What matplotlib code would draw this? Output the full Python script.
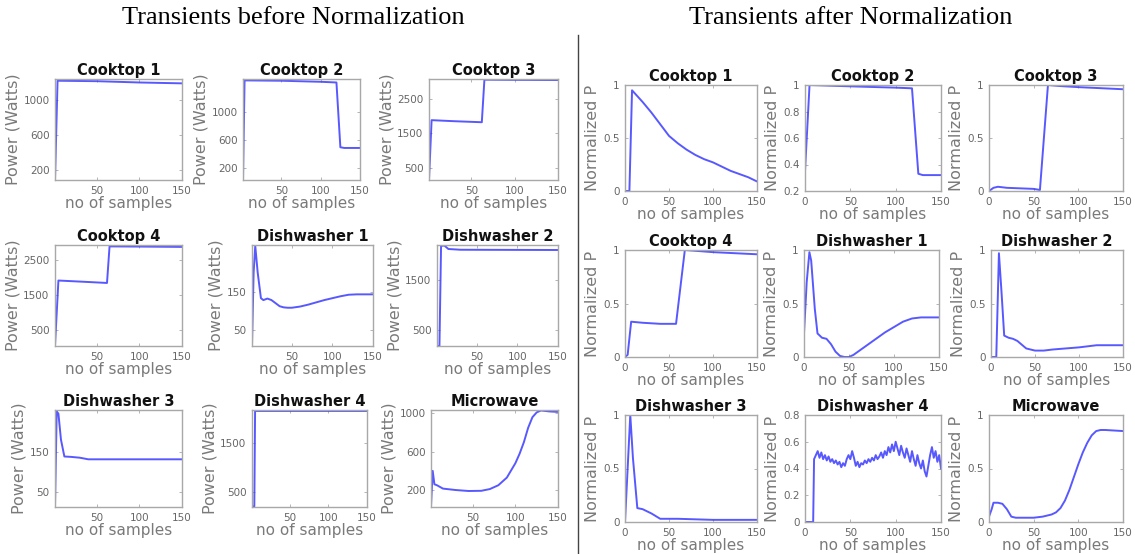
import matplotlib
matplotlib.use("Agg")
import matplotlib.pyplot as plt
from matplotlib.lines import Line2D

W, H = 1135, 554

# ---------------- data: before normalization (x samples, power W) ----------------
ck1_x = [1, 4, 50, 100, 150]
ck1_y = [80, 1220, 1215, 1200, 1190]

ck2_x = [1, 3, 50, 100, 120, 125, 130, 150]
ck2_y = [30, 1460, 1455, 1440, 1430, 500, 490, 490]

ck3_x = [1, 4, 30, 62, 65, 100, 150]
ck3_y = [150, 1880, 1850, 1820, 3050, 3045, 3040]

ck4_x = [1, 5, 30, 62, 65, 100, 150]
ck4_y = [50, 1920, 1890, 1850, 2900, 2895, 2885]

dw1_x = [1, 3, 5, 8, 12, 15, 20, 25, 30, 35, 40, 45, 50, 60, 70, 80, 90, 100, 110, 120, 130, 150]
dw1_y = [10, 200, 270, 200, 133, 128, 132, 128, 120, 112, 109, 108, 108, 111, 116, 122, 128, 133, 138, 142, 143, 143]

dw2_x = [1, 4, 6, 10, 15, 30, 150]
dw2_y = [180, 180, 2180, 2190, 2120, 2105, 2100]

dw3_x = [1, 3, 5, 8, 12, 20, 30, 40, 150]
dw3_y = [12, 250, 245, 180, 138, 137, 135, 131, 131]

dw4_x = [1, 4, 5, 150]
dw4_y = [200, 200, 2150, 2150]

mw_x = [1, 3, 5, 8, 15, 30, 45, 60, 70, 80, 90, 100, 105, 110, 115, 120, 125, 130, 140, 150]
mw_y = [30, 400, 260, 250, 215, 200, 190, 192, 210, 250, 330, 480, 580, 700, 850, 960, 1010, 1030, 1020, 1015]

# ---------------- data: after normalization ----------------
nck1_x = [0, 5, 8, 20, 30, 40, 50, 60, 70, 80, 90, 100, 110, 120, 130, 140, 150]
nck1_y = [0, 0, 0.95, 0.84, 0.74, 0.63, 0.52, 0.45, 0.39, 0.34, 0.30, 0.27, 0.23, 0.19, 0.16, 0.13, 0.09]

nck2_x = [0, 5, 50, 100, 118, 125, 130, 150]
nck2_y = [0.35, 1.0, 0.99, 0.98, 0.975, 0.33, 0.32, 0.32]

nck3_x = [0, 5, 10, 20, 50, 57, 66, 80, 100, 150]
nck3_y = [0, 0.03, 0.04, 0.03, 0.02, 0.01, 1.0, 0.99, 0.98, 0.96]

nck4_x = [0, 3, 7, 20, 40, 58, 68, 100, 150]
nck4_y = [0, 0.02, 0.33, 0.32, 0.31, 0.31, 1.0, 0.98, 0.96]

ndw1_x = [0, 3, 6, 8, 12, 15, 20, 25, 30, 35, 40, 45, 50, 55, 60, 70, 80, 90, 100, 110, 120, 130, 150]
ndw1_y = [0.22, 0.7, 0.98, 0.9, 0.45, 0.22, 0.18, 0.17, 0.12, 0.05, 0.01, 0.0, 0.0, 0.02, 0.05, 0.11, 0.17, 0.23, 0.28, 0.33, 0.36, 0.37, 0.37]

ndw2_x = [0, 6, 9, 12, 15, 20, 25, 30, 40, 50, 60, 70, 100, 110, 120, 150]
ndw2_y = [0, 0, 0.97, 0.6, 0.2, 0.18, 0.17, 0.15, 0.08, 0.06, 0.06, 0.07, 0.09, 0.10, 0.11, 0.11]

ndw3_x = [0, 3, 6, 9, 14, 20, 30, 40, 60, 100, 150]
ndw3_y = [0, 0.5, 1.0, 0.6, 0.13, 0.12, 0.08, 0.03, 0.03, 0.02, 0.02]

ndw4_x = [0, 9, 10, 12, 14, 16, 18, 20, 22, 24, 26, 28, 30, 32, 34, 36, 38, 40, 42, 44, 46, 48,
          50, 52, 54, 56, 58, 60, 62, 64, 66, 68, 70, 72, 74, 76, 78, 80, 82, 84, 86, 88,
          90, 92, 94, 96, 98, 100, 102, 104, 106, 108, 110, 112, 114, 116, 118, 120, 122,
          124, 126, 128, 130, 132, 134, 136, 138, 140, 142, 144, 146, 148, 150]
ndw4_y = [0, 0, 0.47, 0.50, 0.53, 0.48, 0.52, 0.47, 0.50, 0.46, 0.49, 0.45, 0.47, 0.44, 0.46, 0.43, 0.45, 0.41, 0.44, 0.42, 0.47, 0.50,
          0.47, 0.53, 0.48, 0.42, 0.45, 0.41, 0.44, 0.43, 0.46, 0.44, 0.47, 0.45, 0.48, 0.46, 0.50, 0.47, 0.49, 0.52, 0.48, 0.53,
          0.50, 0.56, 0.52, 0.58, 0.53, 0.60, 0.55, 0.50, 0.57, 0.52, 0.48, 0.55, 0.50, 0.45, 0.53, 0.47, 0.42,
          0.50, 0.44, 0.40, 0.46, 0.38, 0.34, 0.42, 0.50, 0.56, 0.48, 0.53, 0.45, 0.50, 0.40]

nmw_x = [0, 3, 5, 10, 15, 20, 25, 30, 50, 60, 70, 75, 80, 85, 90, 95, 100, 105, 110, 115, 120, 125, 130, 150]
nmw_y = [0.05, 0.12, 0.18, 0.18, 0.17, 0.12, 0.05, 0.04, 0.04, 0.05, 0.07, 0.09, 0.13, 0.2, 0.3, 0.42, 0.54, 0.65, 0.74, 0.81, 0.85, 0.86, 0.86, 0.85]

titles_before = ["Cooktop 1", "Cooktop 2", "Cooktop 3", "Cooktop 4", "Dishwasher 1",
                 "Dishwasher 2", "Dishwasher 3", "Dishwasher 4", "Microwave"]
titles_after = titles_before

before = [(ck1_x, ck1_y), (ck2_x, ck2_y), (ck3_x, ck3_y), (ck4_x, ck4_y), (dw1_x, dw1_y),
          (dw2_x, dw2_y), (dw3_x, dw3_y), (dw4_x, dw4_y), (mw_x, mw_y)]
after = [(nck1_x, nck1_y), (nck2_x, nck2_y), (nck3_x, nck3_y), (nck4_x, nck4_y), (ndw1_x, ndw1_y),
         (ndw2_x, ndw2_y), (ndw3_x, ndw3_y), (ndw4_x, ndw4_y), (nmw_x, nmw_y)]

before_ylims = [(80, 1240), (30, 1480), (150, 3070), (40, 2940), (8, 272), (180, 2200), (12, 254), (190, 2170), (23, 1035)]
before_yticks = [[200, 600, 1000], [200, 600, 1000], [500, 1500, 2500], [500, 1500, 2500], [50, 150],
                 [500, 1500], [50, 150], [500, 1500], [200, 600, 1000]]
after_ylims = [(0, 1), (0.2, 1), (0, 1), (0, 1), (0, 1), (0, 1), (0, 1), (0, 0.8), (0, 1)]
after_yticks = [[0, 0.5, 1], [0.2, 0.4, 0.6, 0.8, 1], [0, 0.5, 1], [0, 0.5, 1], [0, 0.5, 1],
                [0, 0.5, 1], [0, 0.5, 1], [0, 0.2, 0.4, 0.6, 0.8], [0, 0.5, 1]]

# ---------------- layout (pixel boxes) ----------------
left_boxes = [(55, 79, 182, 180), (243, 79, 360, 180), (429, 79, 558, 180),
              (55, 245, 182, 346), (252, 245, 373, 346), (437, 245, 558, 346),
              (55, 410, 182, 507), (252, 410, 367, 507), (431, 410, 558, 507)]
right_boxes = [(625, 85, 757, 191), (805, 85, 941, 191), (989, 85, 1123, 191),
               (625, 250, 757, 357), (804, 250, 939, 357), (991, 250, 1123, 357),
               (625, 415, 757, 522), (805, 415, 941, 522), (989, 415, 1123, 522)]

LINE = "#3b3bff"
GRAY = "#7a7a7a"
SPINE = "#a8a8a8"

fig = plt.figure(figsize=(W / 100, H / 100), dpi=100)
fig.patch.set_facecolor("white")


def add_ax(box):
    x0, y0, x1, y1 = box
    return fig.add_axes([x0 / W, 1 - y1 / H, (x1 - x0) / W, (y1 - y0) / H])


def style(ax, title, ylabel):
    for s in ax.spines.values():
        s.set_color(SPINE)
        s.set_linewidth(1.0)
    ax.tick_params(direction="in", top=True, right=True, length=2, width=0.6,
                   color=SPINE, labelsize=7.5, labelcolor="#666666", pad=4)
    ax.set_title(title, fontsize=10.5, fontweight="bold", color="#111111", pad=3)
    ax.set_xlabel("no of samples", fontsize=11, color=GRAY, labelpad=0)
    ax.set_ylabel(ylabel, fontsize=11.5, color=GRAY, labelpad=2)


for i, box in enumerate(left_boxes):
    ax = add_ax(box)
    xs, ys = before[i]
    ax.plot(xs, ys, color=LINE, lw=1.4, alpha=0.85)
    ax.set_xlim(1, 150)
    ax.set_ylim(*before_ylims[i])
    ax.set_xticks([50, 100, 150])
    ax.set_yticks(before_yticks[i])
    style(ax, titles_before[i], "Power (Watts)")

for i, box in enumerate(right_boxes):
    ax = add_ax(box)
    xs, ys = after[i]
    ax.plot(xs, ys, color=LINE, lw=1.4, alpha=0.85)
    ax.set_xlim(0, 150)
    ax.set_ylim(*after_ylims[i])
    ax.set_xticks([0, 50, 100, 150])
    ax.set_yticks(after_yticks[i])
    ax.set_yticklabels([("%g" % t) for t in after_yticks[i]])
    style(ax, titles_after[i], "Normalized P")

fig.text(293 / W, 1 - 18 / H, "Transients before Normalization", family="Liberation Serif",
         fontsize=19, ha="center", va="center", color="black")
fig.text(851 / W, 1 - 18 / H, "Transients after Normalization", family="Liberation Serif",
         fontsize=19, ha="center", va="center", color="black")

fig.add_artist(Line2D([578 / W, 578 / W], [0, 1 - 35 / H], color="#444444", lw=1.0))

fig.savefig("out.png", dpi=100)
